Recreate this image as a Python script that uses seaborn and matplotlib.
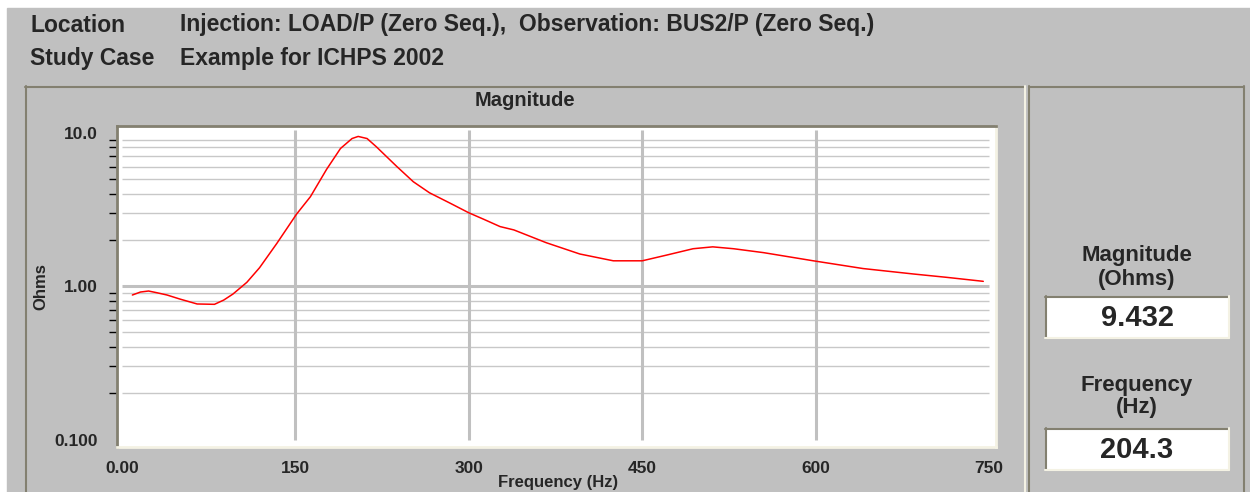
import matplotlib
matplotlib.use("Agg")
import matplotlib.pyplot as plt
import seaborn as sns
from matplotlib.patches import Rectangle
from matplotlib.lines import Line2D

# Frequency scan, zero sequence impedance magnitude
freq = [9, 16, 23, 30, 39, 50, 65, 80, 88, 96, 108, 119, 134, 151, 163, 177,
        189, 199, 204.3, 212, 220, 229, 238, 252, 266, 284, 300, 313, 327, 339,
        367, 396, 425, 450, 471, 494, 511, 529, 555, 598, 641, 685, 713, 745]
mag = [0.874, 0.914, 0.928, 0.905, 0.874, 0.823, 0.764, 0.76, 0.81, 0.887,
       1.057, 1.316, 1.898, 2.94, 3.82, 5.76, 7.87, 9.14, 9.432, 9.14, 8.08,
       6.95, 5.98, 4.78, 4.05, 3.46, 3.0, 2.72, 2.44, 2.32, 1.915, 1.617, 1.46,
       1.46, 1.59, 1.75, 1.80, 1.75, 1.65, 1.46, 1.30, 1.197, 1.14, 1.073]

x_ticks = [0, 150, 300, 450, 600, 750]
x_labels = ["0.00", "150", "300", "450", "600", "750"]
y_ticks = [0.1, 1, 10]
y_labels = ["0.100", "1.00", "10.0"]

header_rows = [("Location", "Injection: LOAD/P (Zero Seq.),  Observation: BUS2/P (Zero Seq.)"),
               ("Study Case", "Example for ICHPS 2002")]
peak_mag = "9.432"
peak_freq = "204.3"

W, H = 1250, 492
GRAY = "#c0c0c0"
DARK = "#838070"
LIGHT = "#f4f2e4"

sns.set_style("white")
plt.rcParams["font.family"] = ["Liberation Sans", "DejaVu Sans"]
plt.rcParams["font.weight"] = "bold"

fig = plt.figure(figsize=(W / 100, H / 100), dpi=100, facecolor="white")


def fx(px):
    return px / W


def fy(py):
    return 1 - py / H


def hline(x0, x1, y, color, lw=1.5):
    fig.add_artist(Line2D([fx(x0), fx(x1)], [fy(y), fy(y)], color=color, lw=lw))


def vline(x, y0, y1, color, lw=1.5):
    fig.add_artist(Line2D([fx(x), fx(x)], [fy(y0), fy(y1)], color=color, lw=lw))


# gray window background
fig.add_artist(Rectangle((fx(7), 0), 1, fy(8), color=GRAY, zorder=0))

# panel bevels
hline(25, 1024, 86.5, DARK)
vline(25.5, 86, 492, DARK)
vline(1025, 86, 492, LIGHT)
hline(1029, 1244, 86.5, DARK)
vline(1029, 86, 492, DARK)
vline(1244, 86, 492, DARK)

# header
for i, (key, val) in enumerate(header_rows):
    y = 25 + i * 33
    fig.text(fx(30), fy(y), key, fontsize=16.5, fontweight="bold", va="center")
    fig.text(fx(180), fy(y), val, fontsize=16.5, fontweight="bold", va="center")

# plot area
ax = fig.add_axes([fx(117), fy(447), fx(996) - fx(117), fy(126) - fy(447)])
ax.set_facecolor("white")
ax.set_yscale("log")

for v in [2, 3, 4, 5, 6, 7, 8, 9]:
    for d in [0.1, 1]:
        ax.hlines(v * d, 0, 750, color="#c8c8c8", lw=1.0, zorder=1)
ax.hlines(1, 0, 750, color="#c0c0c0", lw=2.2, zorder=1)
ax.vlines([150, 300, 450, 600], 0.1, 10.4, color="#c0c0c0", lw=2.2, zorder=1)

sns.lineplot(x=freq, y=mag, ax=ax, color="#ff0000", lw=1.1, zorder=3)

ax.set_xlim(-4.3, 756)
ax.set_ylim(0.0894, 11.03)
ax.set_xticks(x_ticks)
ax.set_xticklabels(x_labels)
ax.set_yticks(y_ticks)
ax.set_yticklabels(y_labels)
ax.set_yticks([v * d for d in [0.1, 1] for v in range(2, 10)], minor=True)
ax.yaxis.set_minor_formatter(matplotlib.ticker.NullFormatter())
ax.tick_params(axis="y", which="major", direction="out", length=11, width=1,
               color="black", pad=3, labelsize=12.5)
ax.tick_params(axis="y", which="minor", direction="out", length=5.5, width=1,
               color="black", left=True)
ax.tick_params(axis="x", direction="out", length=6, width=1, color="black",
               pad=4, labelsize=12.5)
for lab in ax.get_xticklabels() + ax.get_yticklabels():
    lab.set_fontweight("bold")

for side in ["top", "left"]:
    ax.spines[side].set_color(DARK)
    ax.spines[side].set_linewidth(2)
for side in ["bottom", "right"]:
    ax.spines[side].set_color(LIGHT)
    ax.spines[side].set_linewidth(2)

ax.set_xlabel("")
ax.set_ylabel("")
fig.text(fx(41), fy(287), "Ohms", rotation=90, fontsize=12, fontweight="bold",
         ha="center", va="center")
fig.text(fx(558), fy(490), "Frequency (Hz)", fontsize=12, fontweight="bold",
         ha="center", va="bottom")
fig.text(fx(525), fy(101), "Magnitude", fontsize=14.5, fontweight="bold",
         ha="center", va="center")

# readout panel
cx = 1137
fig.text(fx(cx), fy(255), "Magnitude", fontsize=16, fontweight="bold", ha="center", va="center")
fig.text(fx(cx), fy(279), "(Ohms)", fontsize=16, fontweight="bold", ha="center", va="center")
fig.text(fx(cx), fy(386), "Frequency", fontsize=16, fontweight="bold", ha="center", va="center")
fig.text(fx(cx), fy(408), "(Hz)", fontsize=16, fontweight="bold", ha="center", va="center")
for (top, bot, val) in [(296, 338, peak_mag), (428, 470, peak_freq)]:
    fig.add_artist(Rectangle((fx(1045), fy(bot)), fx(1229) - fx(1045), fy(top) - fy(bot),
                             facecolor="white", edgecolor="none", zorder=1))
    hline(1045, 1229, top + 0.5, DARK)
    vline(1045.5, top, bot, DARK)
    hline(1045, 1229, bot - 0.5, LIGHT)
    vline(1228.5, top, bot, LIGHT)
    fig.text(fx(cx), fy((top + bot) / 2 + 1), val, fontsize=21, fontweight="bold",
             ha="center", va="center", zorder=2)

fig.savefig("out.png", dpi=100, facecolor=fig.get_facecolor())
